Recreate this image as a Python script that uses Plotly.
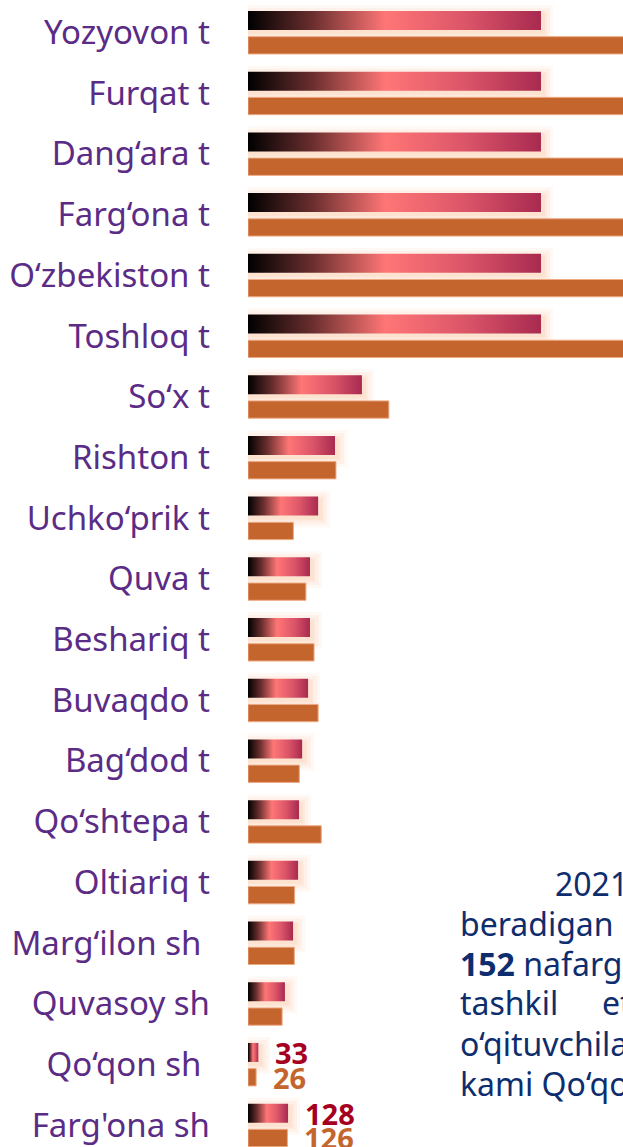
import plotly.graph_objects as go

# ---------------- data ----------------
categories = [
    "Yozyovon t", "Furqat t", "Dang\u2018ara t", "Farg\u2018ona t", "O\u2018zbekiston t",
    "Toshloq t", "So\u2018x t", "Rishton t", "Uchko\u2018prik t", "Quva t",
    "Beshariq t", "Buvaqdo t", "Bag\u2018dod t", "Qo\u2018shtepa t", "Oltiariq t",
    "Marg\u2018ilon sh\u00a0", "Quvasoy sh", "Qo\u2018qon sh\u00a0", "Farg'ona sh",
]
series_a = [936, 936, 936, 936, 936, 936, 364, 278, 224, 198,
            198, 192, 173, 163, 160, 144, 118, 33, 128]
series_b = [1300, 1300, 1300, 1300, 1300, 1300, 450, 281, 145, 185,
            211, 224, 164, 234, 149, 148, 109, 26, 126]
labelled = ["Qo\u2018qon sh\u00a0", "Farg'ona sh"]

# ---------------- style ----------------
W, H = 623, 1147
ML = 248
XMAX = 1198
Y_RANGE = [18.36, -0.535]
px_x = XMAX / (W - ML)                       # data units per pixel (x)
px_y = (Y_RANGE[0] - Y_RANGE[1]) / H         # data units per pixel (y)

A_OFF, A_W = -0.354, 0.313
B_OFF, B_W = 0.069, 0.285
ORANGE = "#C4652E"
RED = "#A50021"
PURPLE = "#5B2C86"
NAVY = "#0E2D6E"
FONT = "Noto Sans"
grad = [[0.0, "#000000"], [0.22, "#6A2E2E"], [0.47, "#FF7676"],
        [0.75, "#DA5468"], [1.0, "#A82A50"]]

idx = list(range(len(categories)))

fig = go.Figure()

# orange bars
fig.add_trace(go.Bar(
    orientation="h", x=series_b, y=idx, width=B_W, offset=B_OFF,
    marker=dict(color=ORANGE, line=dict(color="rgba(238,170,130,1)", width=1)),
    hoverinfo="skip", showlegend=False,
))

# gradient bars (filled polygons with horizontal gradient)
shapes = []
for i, v in zip(idx, series_a):
    y0 = i + A_OFF
    y1 = i + A_OFF + A_W
    fig.add_trace(go.Scatter(
        x=[0, v, v, 0, 0], y=[y0, y0, y1, y1, y0],
        mode="lines", line=dict(width=0), fill="toself",
        fillgradient=dict(type="horizontal", colorscale=grad),
        hoverinfo="skip", showlegend=False,
    ))
    # soft glow behind
    for e, a in [(9, 0.10), (6, 0.14), (3, 0.18), (1, 0.22)]:
        shapes.append(dict(
            type="rect", xref="x", yref="y", layer="below",
            x0=0, x1=v + (3 + e) * px_x,
            y0=y0 + (3 - e) * px_y, y1=y1 + (3 + e) * px_y,
            fillcolor=f"rgba(252,200,165,{a})", line=dict(width=0),
        ))

annotations = []
for cat, a, b in zip(categories, series_a, series_b):
    if cat in labelled:
        i = categories.index(cat)
        annotations.append(dict(
            x=a, y=i + A_OFF + A_W / 2, xref="x", yref="y", text=f"<b>{a}</b>",
            xanchor="left", yanchor="middle", xshift=15, showarrow=False,
            font=dict(family=FONT, size=29, color=RED)))
        annotations.append(dict(
            x=b, y=i + B_OFF + B_W / 2, xref="x", yref="y", text=f"<b>{b}</b>",
            xanchor="left", yanchor="middle", xshift=15, showarrow=False,
            font=dict(family=FONT, size=29, color=ORANGE)))

# overlapping paragraph text on the right
para = [
    ("2021", 553, 883),
    ("beradigan", 458, 923),
    ("<b>152</b> nafarga", 458, 963),
    ("tashkil", 458, 1003),
    ("etadi", 600, 1003),
    ("o\u2018qituvchilar", 458, 1043),
    ("kami Qo\u2018qon", 458, 1083),
]
for t, px, py in para:
    annotations.append(dict(
        x=(px - ML) / (W - ML), y=1 - py / H, xref="paper", yref="paper",
        text=t, xanchor="left", yanchor="middle", showarrow=False,
        font=dict(family=FONT, size=32, color=NAVY)))

fig.update_layout(
    width=W, height=H,
    margin=dict(l=ML, r=0, t=0, b=0, pad=0),
    paper_bgcolor="white", plot_bgcolor="white",
    showlegend=False,
    xaxis=dict(range=[0, XMAX], showgrid=False, zeroline=False,
               showticklabels=False, showline=False, ticks=""),
    yaxis=dict(range=Y_RANGE, tickmode="array", tickvals=idx, ticktext=categories,
               showgrid=False, zeroline=False, showline=False, ticks="",
               ticklabelstandoff=37,
               tickfont=dict(family=FONT, size=33, color=PURPLE)),
    shapes=shapes,
    annotations=annotations,
)

fig.write_html("out.html", config={"displayModeBar": False},
               post_script="document.body.style.margin='0';document.body.style.overflow='hidden';")
